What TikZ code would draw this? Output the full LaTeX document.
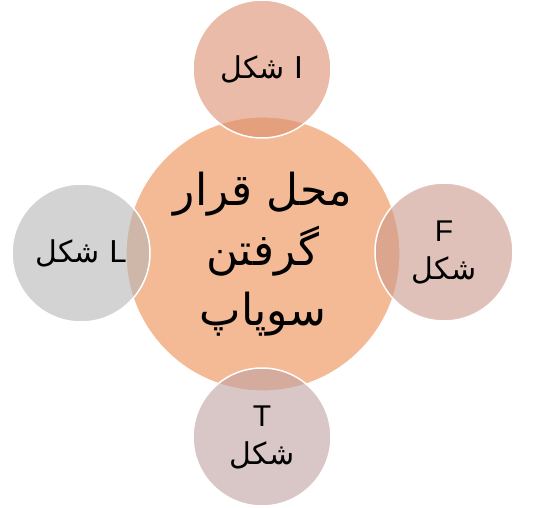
\documentclass[tikz,border=0pt]{standalone}
\usepackage{fontspec}
\setmainfont{Liberation Sans}
\newfontfamily\farsi[Script=Arabic]{DejaVu Sans}
\TeXXeTstate=1
\definecolor{hub}{RGB}{244,185,149}
\definecolor{topc}{RGB}{218,142,110}
\definecolor{rightc}{RGB}{203,152,138}
\definecolor{leftc}{RGB}{182,182,182}
\definecolor{botc}{RGB}{192,162,162}
\begin{document}
\begin{tikzpicture}[x=1pt,y=-1pt,
hubdisk/.style={circle,fill=hub,draw=white,line width=1.2pt,minimum size=274pt,inner sep=0pt,align=center,font=\farsi\fontsize{44}{60}\selectfont},
sat/.style={circle,draw=white,line width=1.5pt,fill opacity=0.6,text opacity=1,minimum size=138pt,inner sep=0pt,align=center,font=\fontsize{30}{38}\selectfont},
]
\useasboundingbox (0,0) rectangle (541,508);
\node[hubdisk] (hub) at (263,254) {\beginR محل قرار\endR\\ \beginR گرفتن\endR\\ \beginR سوپاپ\endR};
\node[sat,fill=topc] (shapeI) at (262,69) {\farsi\beginR I شکل\endR};
\node[sat,fill=rightc] (shapeF) at (444,252) {F\\ \farsi\beginR شکل\endR};
\node[sat,fill=leftc] (shapeL) at (81,253) {\farsi\beginR L شکل\endR};
\node[sat,fill=botc] (shapeT) at (262,437) {T\\ \farsi\beginR شکل\endR};
\end{tikzpicture}
\end{document}
